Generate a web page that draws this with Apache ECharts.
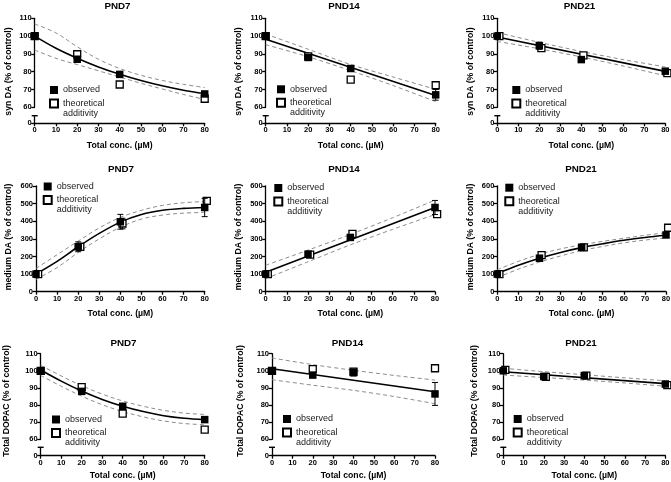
<!DOCTYPE html>
<html><head><meta charset="utf-8">
<script src="https://cdn.jsdelivr.net/npm/echarts@6/dist/echarts.min.js"></script>
<style>html,body{margin:0;padding:0;background:#fff}#c{width:671px;height:482px}</style>
</head><body><div id="c"></div>
<script>
// ---------- labels ----------
const titles = ['PND7', 'PND14', 'PND21'];
const yNames = ['syn DA (% of control)', 'medium DA (% of control)', 'Total DOPAC (% of control)'];
const xName = 'Total conc. (\u00b5M)';
const legendNames = ['observed', 'theoretical additivity'];

// ---------- shared x values ----------
const xObs = [0, 20, 40, 80];
const xCurve = [0, 10, 20, 30, 40, 50, 60, 70, 80];
const xBand5 = [0, 20, 40, 60, 80];
const xLine2 = [0, 80];

// ---------- syn DA, PND7 ----------
const synP7_obs = [100, 87, 78.5, 67.5];
const synP7_obsErr = [0.5, 1, 1.2, 1];
const synP7_theoX = [0, 20, 40, 80];
const synP7_theo = [100, 89.8, 72.8, 64.8];
const synP7_theoErr = [0, 0, 0, 0];
const synP7_fit = [100, 93.2, 87.6, 82.7, 78.6, 75.1, 72.1, 69.6, 67.6];
const synP7_hi = [106.8, 101.8, 94, 87, 81.8, 78, 75.1, 72.9, 71.1];
const synP7_lo = [92.2, 87.5, 84, 80.5, 77, 73.5, 70.3, 67.2, 64.4];

// ---------- syn DA, PND14 ----------
const synP14_obs = [100, 88, 81.8, 67];
const synP14_obsErr = [0.5, 1, 1, 3];
const synP14_theoX = [0, 20, 40, 80];
const synP14_theo = [100, 88.6, 75.5, 72.4];
const synP14_theoErr = [0, 0, 0, 0];
const synP14_fit = [98.2, 66.6];
const synP14_hi = [101.2, 92.6, 84, 77, 70.1];
const synP14_lo = [95.2, 88.4, 80.6, 72.2, 63.2];

// ---------- syn DA, PND21 ----------
const synP21_obs = [100, 94.6, 86.8, 80.3];
const synP21_obsErr = [0.5, 2, 1, 1];
const synP21_theoX = [1, 21, 41, 81];
const synP21_theo = [100, 93.2, 89.2, 79.2];
const synP21_theoErr = [0, 0, 0, 0];
const synP21_fit = [99.5, 80.2];
const synP21_hi = [102, 96.5, 91.4, 86.8, 82.7];
const synP21_lo = [97, 92.9, 88.3, 83.2, 77.7];

// ---------- medium DA, PND7 ----------
const medP7_obs = [100, 255, 397, 478];
const medP7_obsErr = [10, 28, 42, 52];
const medP7_theoX = [1, 21, 41, 81];
const medP7_theo = [100, 255, 387, 515];
const medP7_theoErr = [8, 20, 30, 15];
const medP7_fit = [100, 172, 255, 331, 395, 438, 462, 473, 478];
const medP7_hi = [132, 210, 287, 362, 422, 462, 490, 505, 512];
const medP7_lo = [70, 137, 223, 300, 366, 412, 435, 446, 450];

// ---------- medium DA, PND14 ----------
const medP14_obs = [100, 213, 308, 478];
const medP14_obsErr = [5, 10, 15, 40];
const medP14_theoX = [1, 21, 41, 81];
const medP14_theo = [100, 210, 328, 440];
const medP14_theoErr = [5, 8, 10, 10];
const medP14_fit = [110, 478];
const medP14_hi = [150, 236, 325, 420, 520];
const medP14_lo = [74, 170, 266, 354, 438];

// ---------- medium DA, PND21 ----------
const medP21_obs = [100, 190, 252, 322];
const medP21_obsErr = [8, 10, 10, 10];
const medP21_theoX = [1, 21, 41, 81];
const medP21_theo = [100, 208, 252, 363];
const medP21_theoErr = [5, 5, 5, 5];
const medP21_fit = [103, 150, 190, 223, 250, 272, 292, 308, 320];
const medP21_hi = [125, 172, 212, 243, 266, 286, 303, 320, 335];
const medP21_lo = [80, 128, 168, 203, 233, 257, 277, 293, 305];

// ---------- Total DOPAC, PND7 ----------
const dopP7_obs = [100, 88, 79.3, 71.5];
const dopP7_obsErr = [0.5, 1, 1, 1];
const dopP7_theoX = [0, 20, 40, 80];
const dopP7_theo = [100, 90.5, 75, 65.7];
const dopP7_theoErr = [0, 0, 0, 0];
const dopP7_fit = [100.5, 94, 88.2, 83.3, 79.3, 76.2, 73.8, 72.3, 71.5];
const dopP7_hi = [103.2, 97, 91.3, 86.4, 82.4, 79.3, 76.9, 75.3, 74.5];
const dopP7_lo = [97.3, 91, 85.2, 80.2, 76.2, 73.1, 70.7, 69.2, 68.5];

// ---------- Total DOPAC, PND14 ----------
const dopP14_obs = [100, 97.5, 99, 86.5];
const dopP14_obsErr = [0.5, 1, 2, 6.7];
const dopP14_theoX = [0, 20, 40, 80];
const dopP14_theo = [100, 101, 99.5, 101.5];
const dopP14_theoErr = [0, 0, 0, 0];
const dopP14_fit = [101.2, 87.8];
const dopP14_hi = [107.5, 103.6, 100.3, 97.3, 94.6];
const dopP14_lo = [94.8, 91.6, 88.6, 85, 80.8];

// ---------- Total DOPAC, PND21 ----------
const dopP21_obs = [100, 96.7, 97.2, 92.3];
const dopP21_obsErr = [0.5, 1, 1, 1];
const dopP21_theoX = [1, 21, 41, 81];
const dopP21_theo = [100.5, 96.5, 97.2, 91.7];
const dopP21_theoErr = [0, 0, 0, 0];
const dopP21_fit = [99.5, 92.5];
const dopP21_hi = [101.5, 99.5, 97.7, 95.9, 94.2];
const dopP21_lo = [97.5, 96.1, 94.6, 92.9, 91];

// ---------- assembly of data per panel ----------
const panels = [
  {obs: synP7_obs, obsErr: synP7_obsErr, theoX: synP7_theoX, theo: synP7_theo, theoErr: synP7_theoErr, fitX: xCurve, fit: synP7_fit, bandX: xCurve, hi: synP7_hi, lo: synP7_lo},
  {obs: synP14_obs, obsErr: synP14_obsErr, theoX: synP14_theoX, theo: synP14_theo, theoErr: synP14_theoErr, fitX: xLine2, fit: synP14_fit, bandX: xBand5, hi: synP14_hi, lo: synP14_lo},
  {obs: synP21_obs, obsErr: synP21_obsErr, theoX: synP21_theoX, theo: synP21_theo, theoErr: synP21_theoErr, fitX: xLine2, fit: synP21_fit, bandX: xBand5, hi: synP21_hi, lo: synP21_lo},
  {obs: medP7_obs, obsErr: medP7_obsErr, theoX: medP7_theoX, theo: medP7_theo, theoErr: medP7_theoErr, fitX: xCurve, fit: medP7_fit, bandX: xCurve, hi: medP7_hi, lo: medP7_lo},
  {obs: medP14_obs, obsErr: medP14_obsErr, theoX: medP14_theoX, theo: medP14_theo, theoErr: medP14_theoErr, fitX: xLine2, fit: medP14_fit, bandX: xBand5, hi: medP14_hi, lo: medP14_lo},
  {obs: medP21_obs, obsErr: medP21_obsErr, theoX: medP21_theoX, theo: medP21_theo, theoErr: medP21_theoErr, fitX: xCurve, fit: medP21_fit, bandX: xCurve, hi: medP21_hi, lo: medP21_lo},
  {obs: dopP7_obs, obsErr: dopP7_obsErr, theoX: dopP7_theoX, theo: dopP7_theo, theoErr: dopP7_theoErr, fitX: xCurve, fit: dopP7_fit, bandX: xCurve, hi: dopP7_hi, lo: dopP7_lo},
  {obs: dopP14_obs, obsErr: dopP14_obsErr, theoX: dopP14_theoX, theo: dopP14_theo, theoErr: dopP14_theoErr, fitX: xLine2, fit: dopP14_fit, bandX: xBand5, hi: dopP14_hi, lo: dopP14_lo},
  {obs: dopP21_obs, obsErr: dopP21_obsErr, theoX: dopP21_theoX, theo: dopP21_theo, theoErr: dopP21_theoErr, fitX: xLine2, fit: dopP21_fit, bandX: xBand5, hi: dopP21_hi, lo: dopP21_lo}
];

// ---------- layout (positions / styles) ----------
const FONT = '"Liberation Sans", Arial, sans-serif';
const rowLayout = [
  {broken: true, upTop: 18.3, upH: 89, loTop: 115.7, loH: 7.6, yMin: 60, yMax: 110, yInt: 10, nameGap: 17.5},
  {broken: false, top: 186, h: 105.7, yMin: 0, yMax: 600, yInt: 100, nameGap: 17.5},
  {broken: true, upTop: 353.7, upH: 85.6, loTop: 447.3, loH: 8.4, yMin: 60, yMax: 110, yInt: 10, nameGap: 15}
];
const colLayout = [
  [[34.7, 170], [265.7, 170], [497.3, 168]],
  [[36, 168.7], [265.7, 169.3], [497.3, 168.7]],
  [[40.7, 164], [272, 163], [503.3, 162]]
];
const titlePos = [[117.5, 6], [344, 6], [579.5, 6], [121, 169], [344, 169], [581, 169], [123.5, 343.3], [347.5, 343.3], [581, 343.3]];
const yNamePos = [[8.3, 71.5], [239, 71.5], [470.7, 71.5], [8.3, 237], [239, 237], [470.7, 237], [6.7, 401], [240.5, 401], [475, 401]];
const legendIcon = [[53, 90], [280, 89.3], [515.3, 90], [46.7, 186.5], [277.3, 188], [508.3, 187.7], [55, 419.5], [286, 419], [516.7, 419]];

const axisLineStyle = {color: '#000', width: 1.3};
const tickLabelStyle = {color: '#000', fontSize: 7.5, fontWeight: 'bold', fontFamily: FONT};

function zip(xs, ys) { return xs.map((x, i) => [x, ys[i]]); }
function errData(xs, ys, es) { return xs.map((x, i) => [x, ys[i] - es[i], ys[i] + es[i]]); }

function errRender(params, api) {
  const x = api.value(0), lo = api.value(1), hi = api.value(2);
  const p1 = api.coord([x, hi]), p2 = api.coord([x, lo]);
  const w = 3;
  const st = {stroke: '#000', lineWidth: 1};
  return {type: 'group', children: [
    {type: 'line', shape: {x1: p1[0], y1: p1[1], x2: p2[0], y2: p2[1]}, style: st},
    {type: 'line', shape: {x1: p1[0] - w, y1: p1[1], x2: p1[0] + w, y2: p1[1]}, style: st},
    {type: 'line', shape: {x1: p2[0] - w, y1: p2[1], x2: p2[0] + w, y2: p2[1]}, style: st}
  ]};
}

const grid = [], xAxis = [], yAxis = [], series = [], legend = [], graphic = [];

function visibleX(gridIndex, nameGap) {
  return {
    gridIndex, type: 'value', min: 0, max: 80, interval: 10,
    name: xName, nameLocation: 'middle', nameGap,
    nameTextStyle: {color: '#000', fontSize: 8.7, fontWeight: 'bold', fontFamily: FONT},
    axisLine: {show: true, onZero: false, lineStyle: axisLineStyle},
    axisTick: {show: true, length: 3, lineStyle: axisLineStyle},
    axisLabel: Object.assign({margin: 3}, tickLabelStyle),
    splitLine: {show: false}
  };
}
function visibleY(gridIndex, min, max, interval) {
  return {
    gridIndex, type: 'value', min, max, interval,
    axisLine: {show: true, lineStyle: axisLineStyle},
    axisTick: {show: true, length: 3.5, lineStyle: axisLineStyle},
    axisLabel: Object.assign({margin: 3}, tickLabelStyle),
    splitLine: {show: false}
  };
}

panels.forEach((p, i) => {
  const r = Math.floor(i / 3), c = i % 3;
  const R = rowLayout[r];
  const [left, width] = colLayout[r][c];
  let xi, yi;
  if (R.broken) {
    const gUp = grid.length;
    grid.push({left, width, top: R.upTop, height: R.upH, outerBoundsMode: 'none', containLabel: false});
    const gLo = grid.length;
    grid.push({left, width, top: R.loTop, height: R.loH, outerBoundsMode: 'none', containLabel: false});
    xi = xAxis.length;
    xAxis.push({gridIndex: gUp, type: 'value', min: 0, max: 80, interval: 10, show: false});
    xAxis.push(visibleX(gLo, R.nameGap));
    yi = yAxis.length;
    yAxis.push(visibleY(gUp, R.yMin, R.yMax, R.yInt));
    yAxis.push({
      gridIndex: gLo, type: 'value', min: 0, max: 1, interval: 1,
      axisLine: {show: true, lineStyle: axisLineStyle, symbol: ['none', 'rect'], symbolSize: [6, 1.4], symbolOffset: [0, 0]},
      axisTick: {show: true, length: 3.5, lineStyle: axisLineStyle, customValues: [0]},
      axisLabel: Object.assign({margin: 3, customValues: [0], formatter: v => (v === 0 ? '0' : '')}, tickLabelStyle),
      splitLine: {show: false}
    });
  } else {
    const g = grid.length;
    grid.push({left, width, top: R.top, height: R.h, outerBoundsMode: 'none', containLabel: false});
    xi = xAxis.length;
    xAxis.push(visibleX(g, R.nameGap));
    yi = yAxis.length;
    yAxis.push(visibleY(g, R.yMin, R.yMax, R.yInt));
  }
  const common = {xAxisIndex: xi, yAxisIndex: yi, silent: true};
  const dashStyle = {color: '#8c8c8c', width: 1, type: [4, 3]};
  const sm = p.bandX.length > 5 ? 0.35 : 0.25;
  series.push(Object.assign({type: 'line', data: zip(p.bandX, p.hi), showSymbol: false, smooth: sm, lineStyle: dashStyle, z: 2}, common));
  series.push(Object.assign({type: 'line', data: zip(p.bandX, p.lo), showSymbol: false, smooth: sm, lineStyle: dashStyle, z: 2}, common));
  series.push(Object.assign({type: 'line', data: zip(p.fitX, p.fit), showSymbol: false, smooth: p.fitX.length > 2 ? 0.35 : false, lineStyle: {color: '#000', width: 1.6}, z: 3}, common));
  series.push(Object.assign({type: 'custom', renderItem: errRender, data: errData(p.theoX, p.theo, p.theoErr), encode: {x: 0, y: [1, 2]}, clip: false, z: 4}, common));
  series.push(Object.assign({type: 'scatter', name: legendNames[1], data: zip(p.theoX, p.theo), symbol: 'rect', symbolSize: 7, clip: false,
    itemStyle: {color: '#fff', borderColor: '#000', borderWidth: 1.3, opacity: 1}, z: 5}, common));
  series.push(Object.assign({type: 'custom', renderItem: errRender, data: errData(xObs, p.obs, p.obsErr), encode: {x: 0, y: [1, 2]}, clip: false, z: 6}, common));
  series.push(Object.assign({type: 'scatter', name: legendNames[0], data: zip(xObs, p.obs), symbol: 'rect', symbolSize: 7.5, clip: false,
    itemStyle: {color: '#000', opacity: 1}, z: 7}, common));

  const [lx, ly] = legendIcon[i];
  legend.push({
    left: lx - 4, top: ly - 5, orient: 'vertical', padding: 0, itemGap: -6.5,
    itemWidth: 8, itemHeight: 8, selectedMode: false,
    textStyle: {color: '#222', fontSize: 9, fontFamily: FONT, lineHeight: 10},
    formatter: n => (n === legendNames[1] ? ' \ntheoretical\nadditivity' : n),
    data: [legendNames[0], legendNames[1]]
  });

  graphic.push({type: 'text', x: titlePos[i][0], y: titlePos[i][1], silent: true,
    style: {text: titles[c], fill: '#000', fontSize: 9.8, fontWeight: 'bold', fontFamily: FONT, align: 'center', verticalAlign: 'middle'}});
  graphic.push({type: 'text', x: yNamePos[i][0], y: yNamePos[i][1], rotation: Math.PI / 2, silent: true,
    style: {text: yNames[r], fill: '#000', fontSize: 8.7, fontWeight: 'bold', fontFamily: FONT, align: 'center', verticalAlign: 'middle'}});
});

const chart = echarts.init(document.getElementById('c'), null, {renderer: 'canvas'});
chart.setOption({
  animation: false,
  backgroundColor: '#fff',
  textStyle: {fontFamily: FONT},
  grid, xAxis, yAxis, series, legend, graphic
});
</script>
</body></html>
